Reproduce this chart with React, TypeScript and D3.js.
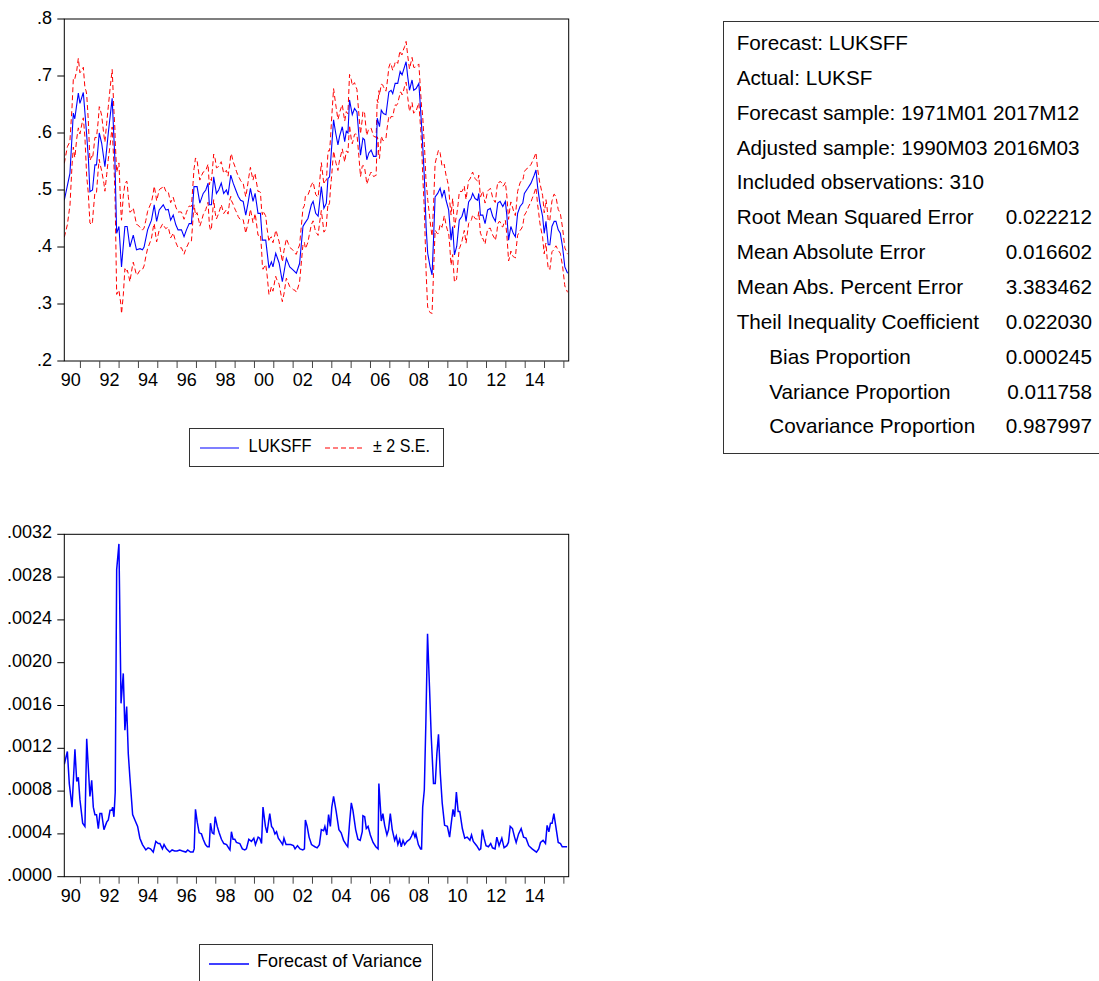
import React from "react";
import * as d3 from "d3";

// ---- data (months counted from 1990M03) ----
const obsMonth = [
  0, 3.5, 5.6, 6.5, 8.7, 9.7, 11.8, 13.5, 14.9, 15.9, 17.5, 19, 20, 21.7, 23.2, 25.2, 27.3, 29.7, 31.4, 32.5,
  33.9, 35.5, 37.6, 39, 40.7, 42.8, 44.8, 47, 48.5, 49.5, 51.7, 54.1, 55.8, 57.3, 58.9, 61.4, 63, 64.5, 66, 67.6,
  69.2, 70.6, 72.7, 74.3, 75.8, 77.5, 78.9, 80.5, 82.4, 84.1, 86.2, 87.8, 89.2, 90, 91.3, 92.7, 94.4, 95.8, 97.4, 98.9,
  100.6, 101.6, 103.3, 104.8, 106.4, 107.9, 109.4, 111, 112.6, 114, 115.5, 117.1, 118.4, 120.2, 121.7, 122.9, 125, 127, 128.5, 129.5,
  131.2, 133.3, 135.3, 137.8, 139.9, 141.9, 144, 146, 148.1, 149.1, 151.2, 153.3, 154.4, 156, 157.5, 159.5, 161.1, 162.6, 163.6, 164.6,
  165.7, 167.1, 168.4, 169.8, 170.8, 172.5, 174, 175, 176, 177, 178.7, 180.1, 181.6, 182.6, 183.8, 185.3, 186.3, 187.7, 189, 190.4,
  191.9, 193.5, 194.2, 195.6, 196.7, 198, 199.6, 201.4, 202.8, 203.8, 205.3, 206.9, 208.4, 209.6, 211.1, 212.1, 213.1, 214.2, 215.8, 216.8,
  218.3, 220, 220.7, 222, 223.5, 224.5, 225.5, 227, 228.2, 229.1, 230.1, 231.7, 233.2, 234.4, 235.8, 236.9, 238.5, 240, 241, 242.1,
  243.5, 245.1, 246.8, 248.2, 249.3, 250.9, 252.4, 253.4, 254.9, 256.5, 257.2, 258.2, 259.7, 261.1, 262.7, 264.4, 265.8, 267.5, 269, 270.4,
  272.1, 273.7, 274.6, 275.7, 277.1, 278.6, 279.9, 281.3, 282.8, 284.5, 285.5, 287.6, 289.6, 291.6, 292.7, 293.7, 295.1, 296.8, 297.8, 298.9,
  300.3, 301.3, 302.6, 304, 305.1, 306.5, 307.8, 309.2, 310.6, 312.3,
];
const forecastLUKSFF = [
  0.482, 0.529, 0.635, 0.625, 0.67, 0.652, 0.671, 0.611, 0.558, 0.497, 0.5, 0.544, 0.544, 0.6, 0.582, 0.541, 0.6, 0.661, 0.553, 0.424,
  0.436, 0.365, 0.436, 0.436, 0.4, 0.421, 0.395, 0.397, 0.395, 0.4, 0.43, 0.447, 0.474, 0.445, 0.465, 0.474, 0.465, 0.466, 0.447, 0.456,
  0.439, 0.43, 0.43, 0.418, 0.43, 0.441, 0.441, 0.506, 0.506, 0.477, 0.494, 0.5, 0.512, 0.474, 0.474, 0.523, 0.494, 0.5, 0.512, 0.494,
  0.5, 0.491, 0.526, 0.512, 0.5, 0.489, 0.482, 0.48, 0.456, 0.477, 0.503, 0.48, 0.494, 0.459, 0.459, 0.412, 0.412, 0.363, 0.374, 0.365,
  0.389, 0.372, 0.339, 0.38, 0.365, 0.36, 0.354, 0.371, 0.436, 0.441, 0.45, 0.474, 0.48, 0.459, 0.454, 0.506, 0.468, 0.477, 0.52, 0.523,
  0.567, 0.623, 0.6, 0.579, 0.594, 0.611, 0.585, 0.603, 0.6, 0.658, 0.632, 0.643, 0.637, 0.603, 0.561, 0.591, 0.588, 0.553, 0.565, 0.57,
  0.559, 0.559, 0.626, 0.611, 0.64, 0.634, 0.632, 0.672, 0.675, 0.669, 0.687, 0.687, 0.708, 0.702, 0.716, 0.725, 0.699, 0.675, 0.693, 0.675,
  0.678, 0.687, 0.658, 0.6, 0.518, 0.436, 0.389, 0.365, 0.351, 0.412, 0.488, 0.494, 0.503, 0.488, 0.5, 0.482, 0.465, 0.412, 0.436, 0.386,
  0.401, 0.447, 0.454, 0.468, 0.445, 0.479, 0.485, 0.494, 0.485, 0.482, 0.494, 0.456, 0.456, 0.441, 0.465, 0.468, 0.454, 0.445, 0.477, 0.48,
  0.471, 0.48, 0.456, 0.412, 0.436, 0.424, 0.418, 0.459, 0.471, 0.477, 0.494, 0.503, 0.512, 0.526, 0.535, 0.506, 0.477, 0.454, 0.424, 0.445,
  0.404, 0.404, 0.436, 0.445, 0.445, 0.43, 0.424, 0.4, 0.365, 0.354,
];
const varMonth = [
  0, 1.9, 3.1, 4.8, 6.6, 7.7, 8.7, 9.7, 11.4, 12.8, 13.9, 15.9, 17, 18, 19, 20, 21.1, 22.1, 23.2, 24.6,
  26.3, 27.3, 28.4, 29.4, 30, 30.8, 31.6, 32.5, 33.9, 35.2, 36.6, 37.6, 38.7, 39.7, 40.7, 42.4, 43.8, 45.5, 46.9, 48.5,
  50.6, 52, 53.5, 55.2, 56.8, 58.3, 59.3, 60.9, 61.9, 63.4, 65.4, 66.9, 68.5, 70, 71.6, 73.3, 75.4, 76.6, 78.3, 79.9,
  80.6, 81.4, 82.5, 83.7, 85.1, 86.2, 87.6, 88.8, 89.9, 90.7, 91.8, 92.8, 93.6, 94.9, 96.1, 97.5, 99, 100.7, 102.3, 102.8,
  103.7, 104.7, 105.8, 106.8, 108.9, 110.5, 112, 113, 114.5, 116.1, 117.6, 118.6, 120.3, 121.3, 122.4, 123.3, 124.8, 125.8, 127.5, 128.6,
  129.6, 130.7, 131.7, 132.8, 134.2, 135.5, 136.3, 137.6, 139, 140.5, 142.2, 143.2, 144.7, 146.3, 148, 149, 149.6, 150.7, 151.9, 153.4,
  154.4, 155.5, 156.9, 158.3, 159.5, 160.9, 161.7, 162.9, 164, 165.1, 166, 167.1, 168.7, 170.4, 171.8, 173.3, 174.9, 175.9, 177, 178.1,
  179.1, 180.8, 182.2, 183.6, 184.9, 185.3, 186.4, 187.4, 188.5, 189.9, 191.6, 193.3, 194.7, 195.2, 196.7, 197.7, 198.8, 200.2, 201.2, 202.3,
  203.5, 205, 206, 207, 208.1, 209.1, 210.2, 211.2, 212.7, 214.4, 215.5, 216.5, 217.6, 218.2, 219.7, 221.1, 221.7, 222.4, 223.4, 224.4,
  225.4, 226.6, 227.7, 229.1, 230.2, 231.2, 232.2, 233.3, 234.5, 236, 237.7, 239.1, 240.2, 241.2, 242.2, 243.3, 244.4, 245.4, 247, 248.5,
  250, 251.7, 252.7, 253.8, 255.9, 257.5, 258.4, 259.4, 260.5, 261.7, 263.2, 264.6, 265.7, 267.3, 268.4, 269.8, 271.5, 272.9, 274.6, 275.6,
  276.7, 278.1, 279.4, 280.4, 281.9, 283.5, 285, 286.5, 288.2, 290.3, 293, 294.4, 295.5, 297.1, 298.6, 299.6, 300.7, 301.7, 302.7, 303.8,
  305, 306.5, 307.9, 309, 310.5, 312,
];
const forecastVariance = [
  0.00105, 0.00117, 0.00087, 0.00065, 0.00119, 0.00089, 0.00093, 0.00072, 0.0005, 0.00047, 0.00129, 0.00075, 0.0009, 0.00065, 0.00058, 0.00058, 0.00045, 0.00059, 0.00059, 0.00044,
  0.00051, 0.00053, 0.00062, 0.00062, 0.00065, 0.00056, 0.00079, 0.00287, 0.00311, 0.00162, 0.0019, 0.00137, 0.00159, 0.00115, 0.00093, 0.00058, 0.00053, 0.00047, 0.00036, 0.0003,
  0.00025, 0.00027, 0.00026, 0.00023, 0.00033, 0.00031, 0.00031, 0.00026, 0.0003, 0.00026, 0.00023, 0.00025, 0.00024, 0.00024, 0.00025, 0.00024, 0.00023, 0.00025, 0.00023, 0.00023,
  0.00026, 0.00063, 0.00051, 0.00041, 0.0004, 0.00035, 0.0003, 0.00028, 0.00028, 0.0005, 0.00041, 0.0004, 0.00056, 0.00047, 0.00041, 0.00035, 0.00031, 0.0003, 0.00026, 0.00025,
  0.00042, 0.00035, 0.00035, 0.00032, 0.00031, 0.00026, 0.00025, 0.00026, 0.00035, 0.00033, 0.00036, 0.0003, 0.00037, 0.00036, 0.00031, 0.00065, 0.00047, 0.00041, 0.00059, 0.00047,
  0.00045, 0.0004, 0.00042, 0.00036, 0.00033, 0.0003, 0.00036, 0.0003, 0.0003, 0.0003, 0.00029, 0.00026, 0.00029, 0.00026, 0.00025, 0.00026, 0.00053, 0.00047, 0.00037, 0.0003,
  0.00029, 0.00028, 0.00027, 0.0003, 0.00044, 0.00043, 0.00047, 0.00039, 0.00058, 0.00047, 0.00065, 0.00075, 0.00061, 0.00044, 0.00041, 0.00034, 0.0003, 0.00028, 0.0005, 0.00069,
  0.00062, 0.00044, 0.00035, 0.00034, 0.00042, 0.00057, 0.00056, 0.00045, 0.00047, 0.00039, 0.00032, 0.00028, 0.00026, 0.00087, 0.00052, 0.00059, 0.00048, 0.00039, 0.00044, 0.00059,
  0.00044, 0.00034, 0.00038, 0.0003, 0.00035, 0.00028, 0.00034, 0.0003, 0.00033, 0.00035, 0.00038, 0.00042, 0.00037, 0.0004, 0.0003, 0.00026, 0.00026, 0.00065, 0.00081, 0.00146,
  0.00227, 0.00178, 0.00131, 0.00087, 0.00087, 0.00115, 0.00133, 0.00097, 0.00069, 0.00048, 0.00047, 0.00037, 0.00051, 0.00063, 0.00056, 0.00079, 0.00061, 0.00061, 0.00045, 0.00036,
  0.00037, 0.00034, 0.00039, 0.00033, 0.00029, 0.00025, 0.00026, 0.00044, 0.00036, 0.00029, 0.00028, 0.00031, 0.00027, 0.00026, 0.00037, 0.00029, 0.00036, 0.00027, 0.00029, 0.00032,
  0.00047, 0.00045, 0.00037, 0.00032, 0.0004, 0.00045, 0.00037, 0.00036, 0.00029, 0.00026, 0.00023, 0.00026, 0.00032, 0.00034, 0.00031, 0.00048, 0.00042, 0.0005, 0.0005, 0.00059,
  0.00047, 0.00032, 0.00031, 0.00028, 0.00028, 0.00028,
];

const topYTicks = [0.2, 0.3, 0.4, 0.5, 0.6, 0.7, 0.8];
const topYLabels = [".2", ".3", ".4", ".5", ".6", ".7", ".8"];
const botYTicks = [0, 0.0004, 0.0008, 0.0012, 0.0016, 0.002, 0.0024, 0.0028, 0.0032];
const botYLabels = [".0000", ".0004", ".0008", ".0012", ".0016", ".0020", ".0024", ".0028", ".0032"];
const xLabelYears = [1990, 1992, 1994, 1996, 1998, 2000, 2002, 2004, 2006, 2008, 2010, 2012, 2014];
const xLabels = ["90", "92", "94", "96", "98", "00", "02", "04", "06", "08", "10", "12", "14"];
const xTickYears = [1991, 1992, 1993, 1994, 1995, 1996, 1997, 1998, 1999, 2000, 2001, 2002, 2003, 2004, 2005, 2006, 2007, 2008, 2009, 2010, 2011, 2012, 2013, 2014, 2015, 2016];

const statsLabels = [
  "Forecast: LUKSFF",
  "Actual: LUKSF",
  "Forecast sample: 1971M01 2017M12",
  "Adjusted sample: 1990M03 2016M03",
  "Included observations: 310",
  "Root Mean Squared Error",
  "Mean Absolute Error",
  "Mean Abs. Percent Error",
  "Theil Inequality Coefficient",
  "Bias Proportion",
  "Variance Proportion",
  "Covariance Proportion",
];
const statsValues = ["", "", "", "", "", "0.022212", "0.016602", "3.383462", "0.022030", "0.000245", "0.011758", "0.987997"];
const statsIndent = [false, false, false, false, false, false, false, false, false, true, true, true];

const FONT = "'Liberation Sans', Arial, Helvetica, sans-serif";

const monthToYear = (m: number) => 1990 + 2 / 12 + m / 12;

function interp(xs: number[], ys: number[]) {
  return (m: number) => {
    if (m <= xs[0]) return ys[0];
    if (m >= xs[xs.length - 1]) return ys[ys.length - 1];
    const i = d3.bisectRight(xs, m);
    const x0 = xs[i - 1], x1 = xs[i];
    const t = (m - x0) / (x1 - x0);
    return ys[i - 1] + t * (ys[i] - ys[i - 1]);
  };
}

export default function App() {
  const L = 64.3, R = 568.7;
  const x = d3.scaleLinear().domain([1990 + 2 / 12, 2016 + 3 / 12]).range([L, R]);
  const top = { t: 19, b: 361 };
  const bot = { t: 534.3, b: 876.7 };
  const yTop = d3.scaleLinear().domain([0.2, 0.8]).range([top.b, top.t]);
  const yBot = d3.scaleLinear().domain([0, 0.0032]).range([bot.b, bot.t]);

  const fAt = interp(obsMonth, forecastLUKSFF);
  const vAt = interp(varMonth, forecastVariance);
  const bandMonths = Array.from(new Set([...obsMonth, ...varMonth])).sort((a, b) => a - b);

  const lineTop = d3.line<[number, number]>().x((d) => x(monthToYear(d[0]))).y((d) => yTop(d[1]));
  const lineBot = d3.line<[number, number]>().x((d) => x(monthToYear(d[0]))).y((d) => yBot(d[1]));

  const fPts: [number, number][] = obsMonth.map((m, i) => [m, forecastLUKSFF[i]]);
  const upPts: [number, number][] = bandMonths.map((m) => [m, fAt(m) + 2 * Math.sqrt(vAt(m))]);
  const loPts: [number, number][] = bandMonths.map((m) => [m, fAt(m) - 2 * Math.sqrt(vAt(m))]);
  const vPts: [number, number][] = varMonth.map((m, i) => [m, forecastVariance[i]]);

  const renderXAxis = (yb: number) => (
    <g>
      {xTickYears.map((yr) => (
        <line key={yr} x1={x(yr)} x2={x(yr)} y1={yb} y2={yb + 7} stroke="#444" strokeWidth={1} />
      ))}
      {xLabelYears.map((yr, i) => (
        <text key={yr} x={x(yr + 0.5)} y={yb + 25} textAnchor="middle" fontSize={18} fontFamily={FONT} fill="#000">
          {xLabels[i]}
        </text>
      ))}
    </g>
  );

  return (
    <div style={{ position: "absolute", left: 0, top: 0 }}>
      <svg width={1099} height={981} style={{ display: "block", background: "#fff" }}>
        <defs>
          <clipPath id="clipTop">
            <rect x={L} y={top.t} width={R - L} height={top.b - top.t} />
          </clipPath>
          <clipPath id="clipBot">
            <rect x={L} y={bot.t} width={R - L} height={bot.b - bot.t} />
          </clipPath>
        </defs>

        {/* ---- top chart ---- */}
        <g clipPath="url(#clipTop)">
          <path d={lineTop(upPts) || ""} fill="none" stroke="#ff0000" strokeWidth={1} strokeDasharray="5,3" />
          <path d={lineTop(loPts) || ""} fill="none" stroke="#ff0000" strokeWidth={1} strokeDasharray="5,3" />
          <path d={lineTop(fPts) || ""} fill="none" stroke="#0000ff" strokeWidth={1.1} />
        </g>
        <rect x={L} y={top.t} width={R - L} height={top.b - top.t} fill="none" stroke="#000" strokeWidth={1} />
        {topYTicks.map((v, i) => (
          <g key={v}>
            <line x1={L - 7} x2={L} y1={yTop(v)} y2={yTop(v)} stroke="#000" />
            <text x={52} y={yTop(v) + 5} textAnchor="end" fontSize={18} fontFamily={FONT} fill="#000">
              {topYLabels[i]}
            </text>
          </g>
        ))}
        {renderXAxis(top.b)}

        {/* legend top */}
        <rect x={189.5} y={428.5} width={254} height={38} fill="#fff" stroke="#333" strokeWidth={1} />
        <line x1={200} x2={239} y1={448} y2={448} stroke="#0000ff" strokeWidth={1.2} />
        <text x={248.5} y={451.5} fontSize={19} fontFamily={FONT} textLength={63} lengthAdjust="spacingAndGlyphs">LUKSFF</text>
        <line x1={325} x2={364} y1={448} y2={448} stroke="#ff0000" strokeWidth={1.2} strokeDasharray="5,3" />
        <text x={373} y={451.5} fontSize={19} fontFamily={FONT} textLength={57} lengthAdjust="spacingAndGlyphs">± 2 S.E.</text>

        {/* ---- bottom chart ---- */}
        <g clipPath="url(#clipBot)">
          <path d={lineBot(vPts) || ""} fill="none" stroke="#0000ff" strokeWidth={1.5} />
        </g>
        <rect x={L} y={bot.t} width={R - L} height={bot.b - bot.t} fill="none" stroke="#000" strokeWidth={1} />
        {botYTicks.map((v, i) => (
          <g key={v}>
            <line x1={L - 7} x2={L} y1={yBot(v)} y2={yBot(v)} stroke="#000" />
            <text x={52} y={yBot(v) + 4} textAnchor="end" fontSize={18} fontFamily={FONT} fill="#000">
              {botYLabels[i]}
            </text>
          </g>
        ))}
        {renderXAxis(bot.b)}

        {/* legend bottom */}
        <rect x={199.5} y={944.5} width={233} height={60} fill="#fff" stroke="#333" strokeWidth={1} />
        <line x1={209} x2={249} y1={964} y2={964} stroke="#0000ff" strokeWidth={1.5} />
        <text x={257} y={966.5} fontSize={19} fontFamily={FONT} textLength={165} lengthAdjust="spacingAndGlyphs">Forecast of Variance</text>

        {/* ---- stats box ---- */}
        <rect x={723.5} y={21.5} width={400} height={432} fill="#fff" stroke="#333" strokeWidth={1} />
        {statsLabels.map((s, i) => (
          <g key={s}>
            <text x={statsIndent[i] ? 769.3 : 736.7} y={50 + i * 34.85} fontSize={20.7} fontFamily={FONT} fill="#000">
              {s}
            </text>
            {statsValues[i] && (
              <text x={1092} y={50 + i * 34.85} textAnchor="end" fontSize={20.7} fontFamily={FONT} fill="#000">
                {statsValues[i]}
              </text>
            )}
          </g>
        ))}
      </svg>
    </div>
  );
}
